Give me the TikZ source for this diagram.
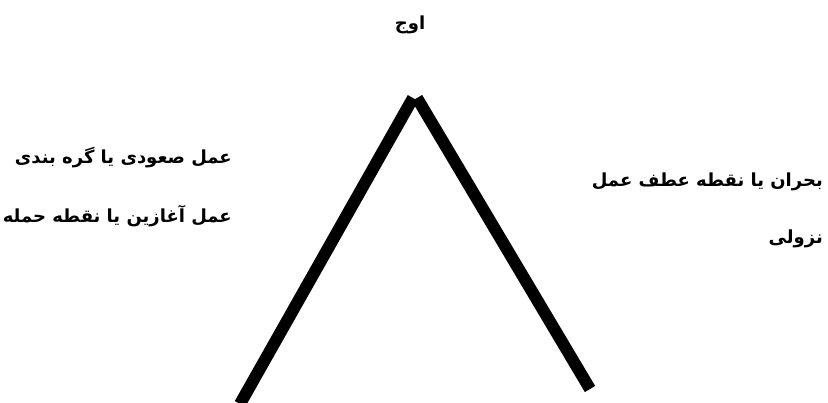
\documentclass[tikz,border=0pt]{standalone}
\usepackage{fontspec}
\newfontfamily\arabicfont[Script=Arabic]{DejaVu Sans}
\TeXXeTstate=1
\usetikzlibrary{positioning}
\tikzset{
  leg/.style={line width=12pt,line cap=butt,black},
  lbl/.style={font=\arabicfont\bfseries\fontsize{18}{20}\selectfont,inner sep=0pt},
}

\begin{document}
\begin{tikzpicture}[x=1pt,y=-1pt]
  \useasboundingbox (0,0) rectangle (828,402);
  % the two legs of the plot line
  \coordinate (start) at (240,404);
  \coordinate (topL) at (413,98);
  \coordinate (topR) at (417,98);
  \coordinate (finish) at (590,389);
  \draw[leg] (start) -- (topL);
  \draw[leg] (topR) -- (finish);
  \node[lbl] (peak) at (410,25) {\beginR اوج\endR};
  \node[lbl,anchor=east] (climb) at (232,158) {\beginR عمل صعودی یا گره بندی\endR};
  \node[lbl,below=58pt of climb.east,anchor=east] (attack) {\beginR عمل آغازین یا نقطه حمله\endR};
  \node[lbl,anchor=east] (crisis) at (823,182) {\beginR بحران یا نقطه عطف عمل\endR};
  \node[lbl,below=57pt of crisis.east,anchor=east] (fall) {\beginR نزولی\endR};
\end{tikzpicture}
\end{document}
